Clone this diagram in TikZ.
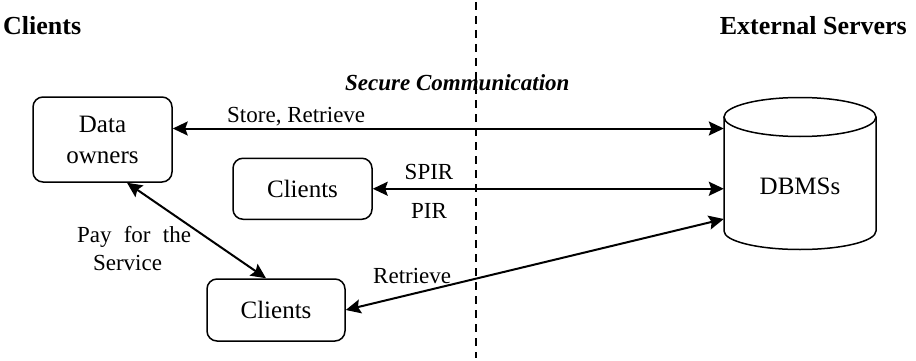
\documentclass[tikz,border=0pt]{standalone}
\usepackage{fontspec}
\setmainfont{Liberation Serif}
\usetikzlibrary{arrows.meta}

\tikzset{
  title/.style={font=\fontsize{26}{30}\selectfont\bfseries, inner sep=0pt},
  boxlabel/.style={font=\fontsize{25}{31}\selectfont, inner sep=0pt},
  edgelabel/.style={font=\fontsize{23}{28}\selectfont, inner sep=0pt},
  party/.style={draw, line width=1.5pt, rounded corners=10pt, inner sep=0pt,
    font=\fontsize{25}{31}\selectfont, align=center},
  link/.style={line width=2pt, {Stealth[length=15pt,width=14pt,inset=2.5pt]}-{Stealth[length=15pt,width=14pt,inset=2.5pt]}},
  divider/.style={line width=2pt, dash pattern=on 8pt off 6pt},
  dbline/.style={line width=1.5pt}
}

\begin{document}
\begin{tikzpicture}[x=1pt, y=-1pt]
  \useasboundingbox (0,0) rectangle (916,361);

  % column headings
  \node[title, anchor=base west] (lefthead) at (3,35) {Clients};
  \node[title, anchor=base east] (righthead) at (907,35) {External Servers};

  % trust boundary
  \coordinate (dtop) at (476,2);
  \coordinate (dbot) at (476,358);
  \draw[divider] (dtop) -- (dbot);
  \node[edgelabel, font=\fontsize{23}{28}\selectfont\bfseries\itshape, anchor=base west] (secure) at (345,91) {Secure Communication};

  % client side
  \node[party, minimum width=139pt, minimum height=85pt] (own) at (102.5,139.5) {Data\\owners};
  \node[party, minimum width=139pt, minimum height=61pt] (cl1) at (302.5,188.75) {Clients};
  \node[party, minimum width=138pt, minimum height=62pt] (cl2) at (276,310) {Clients};

  % database server as a cylinder
  \draw[dbline] (724,117) -- (724,231)
     arc[start angle=180, end angle=0, x radius=76, y radius=18.5] -- (876,117);
  \draw[dbline] (800,117) ellipse [x radius=76, y radius=19.5];
  \node[boxlabel, minimum width=152pt] (db) at (800,186) {DBMSs};

  % connections
  \coordinate (ystore) at (0,128.5);
  \coordinate (yret) at (0,219);
  \draw[link] (own.east |- ystore) -- (db.west |- ystore);
  \draw[link] (cl1.east) -- (cl1.east -| db.west);
  \draw[link] (cl2.east) -- (db.west |- yret);
  \draw[link] ([xshift=24.5pt]own.south) -- ([xshift=-10pt]cl2.north);

  % connection labels
  \node[edgelabel, anchor=base west] (lstore) at (227,122.5) {Store, Retrieve};
  \node[edgelabel, anchor=base] (lspir) at (429,179) {SPIR};
  \node[edgelabel, anchor=base] (lpir) at (429,218) {PIR};
  \node[edgelabel, anchor=base west] (lret) at (373,283) {Retrieve};
  \node[edgelabel, align=center, anchor=base] (lpay) at (134,270.7) {\makebox[114pt][s]{Pay for the}\\\hspace*{-13pt}Service};
\end{tikzpicture}
\end{document}
